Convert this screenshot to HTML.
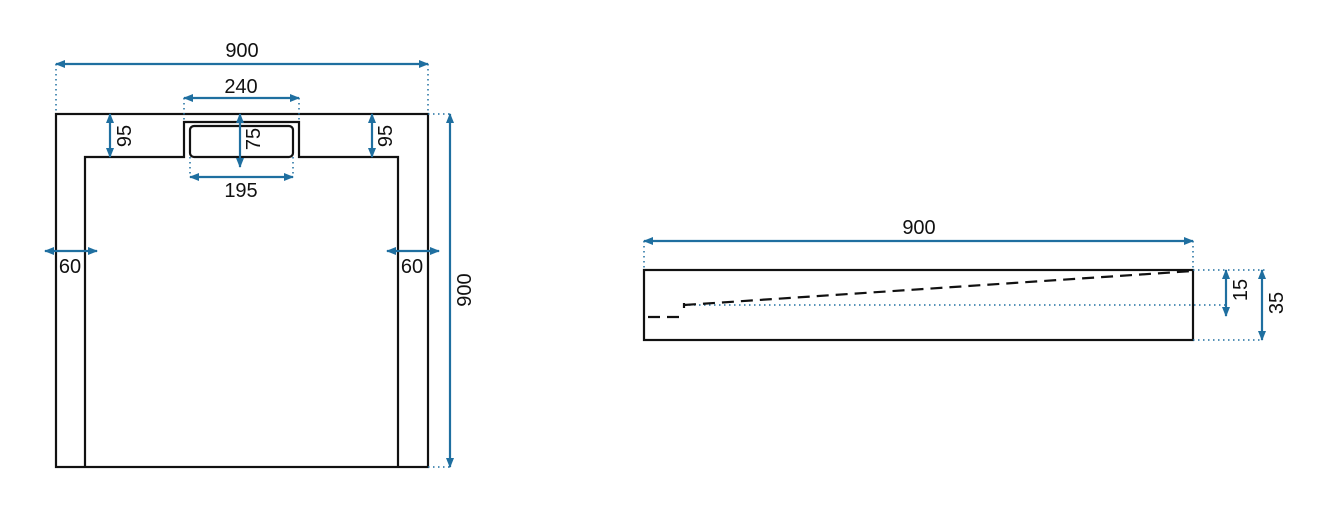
<!DOCTYPE html>
<html><head><style>body{margin:0;background:#fff}svg{display:block}text{font-family:"Liberation Sans",sans-serif;font-size:20px;fill:#111}</style></head>
<body>
<svg width="1323" height="524" viewBox="0 0 1323 524">
<defs>
<marker id="a" viewBox="0 0 10 10" refX="9" refY="5" markerWidth="11" markerHeight="10" markerUnits="userSpaceOnUse" orient="auto-start-reverse"><path d="M0,1 L10,5 L0,9 z" fill="#1f6fa0"/></marker>
</defs>
<g fill="none" stroke="#111" stroke-width="2.2">
<rect x="56" y="114" width="372" height="353"/>
<path d="M85,467 L85,157 L184,157 L184,122 L299,122 L299,157 L398,157 L398,467"/>
<rect x="190" y="126" width="103" height="31" rx="4"/>
<rect x="644" y="270" width="549" height="70"/>
</g>
<g fill="none" stroke="#1f6fa0" stroke-width="1.5" stroke-dasharray="1.5,3.5">
<path d="M56,64V114 M428,64V114 M184,98V122 M299,98V122 M190,157V177 M293,157V177 M428,114H450 M428,467H450"/>
<path d="M644,241V270 M1193,241V270 M684,305H1225 M1193,270H1265 M1193,340H1262"/>
</g>
<g stroke="#1f6fa0" stroke-width="2.2" marker-start="url(#a)" marker-end="url(#a)">
<line x1="56" y1="64" x2="428" y2="64"/>
<line x1="184" y1="98" x2="299" y2="98"/>
<line x1="190" y1="177" x2="293" y2="177"/>
<line x1="240" y1="114" x2="240" y2="167"/>
<line x1="110" y1="114" x2="110" y2="157"/>
<line x1="372" y1="114" x2="372" y2="157"/>
<line x1="45" y1="251" x2="97" y2="251"/>
<line x1="387" y1="251" x2="439" y2="251"/>
<line x1="450" y1="114" x2="450" y2="467"/>
<line x1="644" y1="241" x2="1193" y2="241"/>
<line x1="1226" y1="270" x2="1226" y2="316"/>
<line x1="1262" y1="270" x2="1262" y2="340"/>
</g>
<g stroke="#111" stroke-width="2.2" fill="none">
<path d="M684,305 L1193,271" stroke-dasharray="12,7"/>
<path d="M684,303V308"/>
<path d="M648,317H684" stroke-dasharray="12,7"/>
</g>
<text x="242" y="57" text-anchor="middle">900</text>
<text x="241" y="93" text-anchor="middle">240</text>
<text x="241" y="197" text-anchor="middle">195</text>
<text x="70" y="273" text-anchor="middle">60</text>
<text x="412" y="273" text-anchor="middle">60</text>
<text x="919" y="234" text-anchor="middle">900</text>
<text transform="translate(131,136) rotate(-90)" text-anchor="middle">95</text>
<text transform="translate(392,136) rotate(-90)" text-anchor="middle">95</text>
<text transform="translate(260,139) rotate(-90)" text-anchor="middle">75</text>
<text transform="translate(471,290) rotate(-90)" text-anchor="middle">900</text>
<text transform="translate(1247,290) rotate(-90)" text-anchor="middle">15</text>
<text transform="translate(1283,303) rotate(-90)" text-anchor="middle">35</text>
</svg>
</body></html>
